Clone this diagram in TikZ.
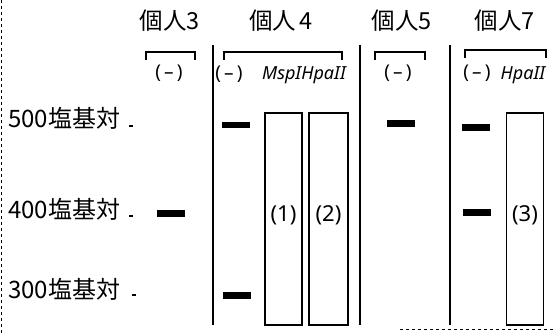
\documentclass[tikz,border=0pt]{standalone}
\usepackage{fontspec}
\setmainfont{Noto Sans CJK JP}
\newfontfamily\latsans{Noto Sans}
\begin{document}
\begin{tikzpicture}[x=1pt,y=-1pt,
  hdr/.style={font=\fontsize{23.5}{25}\selectfont, inner sep=0pt},
  ylab/.style={font=\fontsize{24}{26}\selectfont, inner sep=0pt, anchor=west},
  lane/.style={font=\latsans\fontsize{19}{20}\selectfont, inner sep=0pt},
  itl/.style={font=\latsans\itshape\fontsize{18}{19}\selectfont, inner sep=0pt},
  band/.style={fill=black, minimum width=28pt, minimum height=6.5pt, inner sep=0pt},
  lbox/.style={draw=black, line width=1.1pt, minimum width=37pt, minimum height=212pt, inner sep=0pt},
  blab/.style={font=\latsans\fontsize{22}{23}\selectfont, inner sep=0pt},
  brk/.style={line width=1.8pt},
  sep/.style={line width=1.3pt},
  tick/.style={line width=1.2pt}]
\useasboundingbox (0,0) rectangle (554,336);
% borders
\coordinate (lt) at (1,0); \coordinate (lb) at (1,336);
\draw[dashed, line width=0.8pt] (lt) -- (lb);
\coordinate (bl) at (400,329); \coordinate (br) at (554,329);
\draw[dashed, line width=0.8pt] (bl) -- (br);
% headers
\node[hdr] (h3) at (170,21) {個人3};
\node[hdr] (h4) at (281,21) {個人\,4};
\node[hdr] (h5) at (402,21) {個人5};
\node[hdr] (h7) at (505,21) {個人7};
% brackets
\coordinate (a1) at (146,60); \coordinate (a2) at (146,52); \coordinate (a3) at (195,52); \coordinate (a4) at (195,60);
\draw[brk] (a1) -- (a2) -- (a3) -- (a4);
\coordinate (b1) at (224,60); \coordinate (b2) at (224,52); \coordinate (b3) at (342,52); \coordinate (b4) at (342,60);
\draw[brk] (b1) -- (b2) -- (b3) -- (b4);
\coordinate (c1) at (375,60); \coordinate (c2) at (375,52); \coordinate (c3) at (425,52); \coordinate (c4) at (425,60);
\draw[brk] (c1) -- (c2) -- (c3) -- (c4);
\coordinate (d1) at (465,58); \coordinate (d2) at (465,50); \coordinate (d3) at (546,50); \coordinate (d4) at (546,58);
\draw[brk] (d1) -- (d2) -- (d3) -- (d4);
% lane labels
\node[lane] (l3) at (169,73) {(\,–\,)};
\node[lane] (l4a) at (229,74) {(\,–\,)};
\node[itl] (l4b) at (304,75) {MspIHpaII};
\node[lane] (l5) at (398,73) {(\,–\,)};
\node[lane] (l7a) at (477,73) {(\,–\,)};
\node[itl] (l7b) at (523,75) {HpaII};
% separators
\coordinate (s1t) at (213,45); \coordinate (s1b) at (213,325);
\coordinate (s2t) at (360,45); \coordinate (s2b) at (360,325);
\coordinate (s3t) at (450,45); \coordinate (s3b) at (450,325);
\draw[sep] (s1t) -- (s1b);
\draw[sep] (s2t) -- (s2b);
\draw[sep] (s3t) -- (s3b);
% size labels
\node[ylab] (y500) at (8,118) {500塩基対};
\node[ylab] (y400) at (8,209) {400塩基対};
\node[ylab] (y300) at (8,289) {300塩基対};
\coordinate (t5a) at (129,126); \coordinate (t5b) at (133,126);
\coordinate (t4a) at (129,216); \coordinate (t4b) at (133,216);
\coordinate (t3a) at (132,295); \coordinate (t3b) at (136,295);
\draw[tick] (t5a) -- (t5b);
\draw[tick] (t4a) -- (t4b);
\draw[tick] (t3a) -- (t3b);
% bands
\node[band] (g3) at (171,213.5) {};
\node[band] (g4a) at (236,125) {};
\node[band] (g4b) at (236.5,295.5) {};
\node[band] (g5) at (400.5,123.5) {};
\node[band] (g7a) at (476,127.5) {};
\node[band] (g7b) at (476.5,212.5) {};
% boxes
\node[lbox] (x1) at (283.5,219) {};
\node[lbox, minimum width=39pt] (x2) at (328.5,219) {};
\node[lbox] (x3) at (525,219) {};
\node[blab] (x1l) at (283.5,215) {(1)};
\node[blab] (x2l) at (328.5,215) {(2)};
\node[blab] (x3l) at (525,215) {(3)};
\end{tikzpicture}
\end{document}
